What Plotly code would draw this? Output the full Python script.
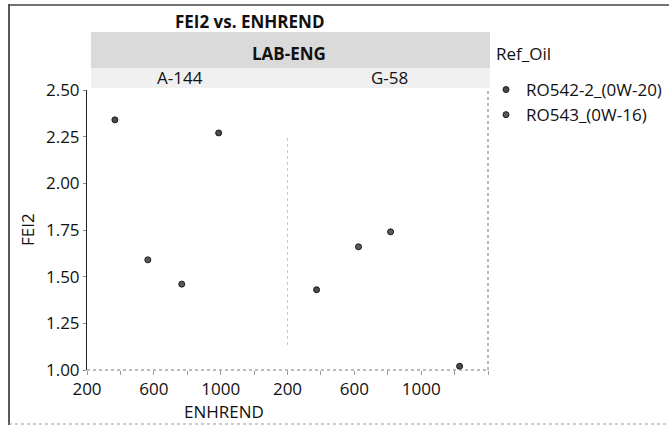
import plotly.graph_objects as go
from plotly.subplots import make_subplots

W, H = 669, 429
L, R, T, B = 87, 488, 90, 370  # plot area in px
MID = (L + R) / 2

panels = ["A-144", "G-58"]
series = ["RO542-2_(0W-20)", "RO543_(0W-16)"]
# per panel, per series: (ENHREND, FEI2)
a144_s1_x = [367, 988]
a144_s1_y = [2.34, 2.27]
a144_s2_x = [564, 767]
a144_s2_y = [1.59, 1.46]
g58_s1_x = [374, 1230]
g58_s1_y = [1.43, 1.02]
g58_s2_x = [625, 817]
g58_s2_y = [1.66, 1.74]

data = {
    ("A-144", series[0]): (a144_s1_x, a144_s1_y),
    ("A-144", series[1]): (a144_s2_x, a144_s2_y),
    ("G-58", series[0]): (g58_s1_x, g58_s1_y),
    ("G-58", series[1]): (g58_s2_x, g58_s2_y),
}
colors = {series[0]: "#4a4a4a", series[1]: "#5a5a5a"}

x_ticks = [200, 600, 1000]
y_ticks = [1.00, 1.25, 1.50, 1.75, 2.00, 2.25, 2.50]


def px_x(p):
    return p / W


def px_y(p):
    return 1 - p / H


fig = make_subplots(rows=1, cols=2, shared_yaxes=True, horizontal_spacing=0)

for ci, p in enumerate(panels, start=1):
    for s in series:
        xs, ys = data[(p, s)]
        fig.add_trace(go.Scatter(
            x=xs, y=ys, mode="markers", name=s, legendgroup=s,
            showlegend=(ci == 1),
            marker=dict(size=6, color=colors[s], line=dict(color="#1a1a1a", width=1)),
        ), row=1, col=ci)

font = "Open Sans, Noto Sans, sans-serif"
FS = 17
doms = {1: [px_x(L), px_x(MID)], 2: [px_x(MID), px_x(R)]}
for ci in (1, 2):
    fig.update_xaxes(domain=doms[ci], automargin=False,
                     range=[200, 1400], tickvals=x_ticks, ticktext=[str(v) for v in x_ticks],
                     ticks="outside", ticklen=4, tickcolor="#999",
                     minor=dict(dtick=200, tick0=200, ticks="outside", ticklen=4, tickcolor="#999"),
                     showgrid=False, zeroline=False, showline=False,
                     tickfont=dict(size=FS, color="#111", family=font), row=1, col=ci)
fig.update_yaxes(domain=[px_y(B), px_y(T)], automargin=False)
fig.update_yaxes(range=[1.0, 2.5], tickvals=y_ticks, tickformat=".2f", ticks="outside",
                 ticklen=3, tickcolor="#888", showgrid=False, zeroline=False,
                 showline=True, linecolor="#222", linewidth=1,
                 tickfont=dict(size=FS, color="#111", family=font), row=1, col=1)
fig.update_yaxes(showline=False, ticks="", row=1, col=2)

shapes = []
# outer frame
shapes.append(dict(type="line", xref="paper", yref="paper", x0=px_x(9), x1=px_x(9), y0=px_y(4), y1=px_y(425), line=dict(color="#222", width=1.5)))
shapes.append(dict(type="line", xref="paper", yref="paper", x0=px_x(9), x1=px_x(669), y0=px_y(5), y1=px_y(5), line=dict(color="#444", width=1.5)))
shapes.append(dict(type="line", xref="paper", yref="paper", x0=px_x(9), x1=px_x(669), y0=px_y(424), y1=px_y(424), line=dict(color="#999", width=1, dash="dot")))
# header band LAB-ENG
shapes.append(dict(type="rect", xref="paper", yref="paper", x0=px_x(91), x1=px_x(490), y0=px_y(68), y1=px_y(32), fillcolor="#dadada", line=dict(width=0), layer="below"))
# panel label row
shapes.append(dict(type="rect", xref="paper", yref="paper", x0=px_x(91), x1=px_x(490), y0=px_y(88), y1=px_y(68), fillcolor="#f0f0f0", line=dict(width=0), layer="below"))
# bottom axis dotted
shapes.append(dict(type="line", xref="paper", yref="paper", x0=px_x(L), x1=px_x(R), y0=px_y(B), y1=px_y(B), line=dict(color="#777", width=1, dash="dot")))
# right border dotted
shapes.append(dict(type="line", xref="paper", yref="paper", x0=px_x(R), x1=px_x(R), y0=px_y(B), y1=px_y(T), line=dict(color="#777", width=1, dash="dot")))
# panel divider faint
shapes.append(dict(type="line", xref="paper", yref="paper", x0=px_x(MID), x1=px_x(MID), y0=px_y(345), y1=px_y(135), line=dict(color="#ccc", width=1, dash="dot")))


def ann(text, x, y, angle=0, xanchor="center"):
    return dict(text=text, xref="paper", yref="paper", x=x, y=y, xanchor=xanchor, yanchor="middle",
                textangle=angle, showarrow=False, font=dict(size=FS, color="#111", family=font))


annotations = [
    ann("<b>FEI2 vs. ENHREND</b>", px_x(250), px_y(21)),
    ann("<b>LAB-ENG</b>", px_x(289), px_y(54)),
    ann("A-144", px_x(180), px_y(77)),
    ann("G-58", px_x(389), px_y(77)),
    ann("ENHREND", px_x(224), px_y(411)),
    ann("FEI2", px_x(27), px_y(230), -90),
    ann("Ref_Oil", px_x(494), px_y(54), xanchor="left"),
]

fig.update_layout(
    width=W, height=H,
    margin=dict(l=0, r=0, t=0, b=0),
    paper_bgcolor="white", plot_bgcolor="white",
    shapes=shapes, annotations=annotations,
    legend=dict(x=px_x(486), y=px_y(72), xanchor="left", yanchor="top",
                font=dict(size=FS, family=font, color="#111"), tracegroupgap=0,
                bgcolor="rgba(0,0,0,0)", itemsizing="trace", itemwidth=30),
    font=dict(family=font),
)

fig.write_html("out.html")
